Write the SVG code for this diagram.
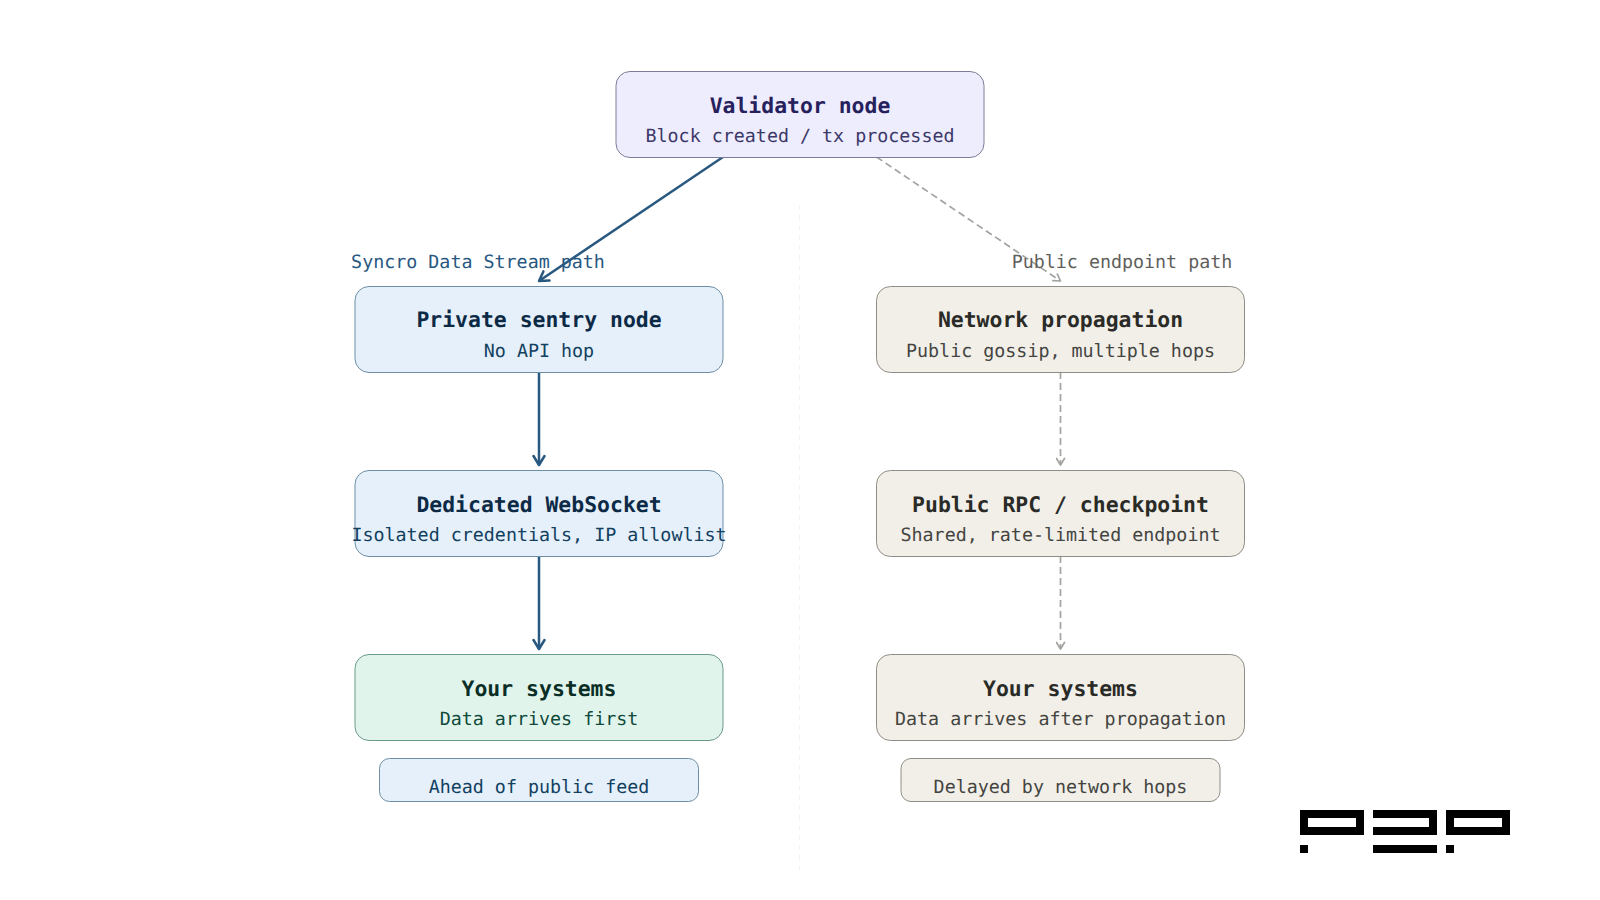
<svg xmlns="http://www.w3.org/2000/svg" width="1600" height="900" viewBox="0 0 1600 900">
<style>
text{font-family:"DejaVu Sans Mono",monospace;text-anchor:middle;text-rendering:geometricPrecision}
.t{font-size:21.45px;font-weight:700}
.s{font-size:18.33px}
.purple rect{fill:#eeedfe;stroke:#7f7c99}
.purple .t{fill:#26215c}.purple .s{fill:#3c3868}
.blue rect{fill:#e5f0fa;stroke:#6d8fa8}
.blue .t{fill:#0c2a46}.blue .s{fill:#12405f}
.green rect{fill:#e1f4ec;stroke:#6a9a88}
.green .t{fill:#0a2e25}.green .s{fill:#0f4a3a}
.gray rect{fill:#f1efe8;stroke:#8f8e86}
.gray .t{fill:#2a2a27}.gray .s{fill:#444441}
.solid{fill:none;stroke:#28587f;stroke-width:2.5}
.dash{fill:none;stroke:#a3a3a0;stroke-width:1.7;stroke-dasharray:7 4}
</style>
<defs>
<marker id="a1" viewBox="0 0 14 14" refX="11" refY="7" markerWidth="14" markerHeight="14" markerUnits="userSpaceOnUse" orient="auto"><path d="M2 1.5L11 7L2 12.5" fill="none" stroke="#28587f" stroke-width="2.5" stroke-linecap="round" stroke-linejoin="round"/></marker>
<marker id="a2" viewBox="0 0 10 10" refX="8" refY="5" markerWidth="10" markerHeight="10" markerUnits="userSpaceOnUse" orient="auto"><path d="M1.5 1L8 5L1.5 9" fill="none" stroke="#a3a3a0" stroke-width="1.7" stroke-linecap="round" stroke-linejoin="round"/></marker>
</defs>
<rect width="1600" height="900" fill="#fff"/>
<line x1="799.5" y1="205" x2="799.5" y2="875" stroke="#f2f2f2" stroke-width="1" stroke-dasharray="5 5"/>
<g id="connectors">
<path class="solid" d="M723 157L539 281" marker-end="url(#a1)"/>
<path class="solid" d="M539 372L539 465" marker-end="url(#a1)"/>
<path class="solid" d="M539 556L539 649" marker-end="url(#a1)"/>
<path class="dash" d="M876.500 157L1060.500 281" marker-end="url(#a2)"/>
<path class="dash" d="M1060.500 372L1060.500 465" marker-end="url(#a2)"/>
<path class="dash" d="M1060.500 556L1060.500 649" marker-end="url(#a2)"/>
</g>
<g id="validator" class="purple"><rect x="616" y="71.500" width="368" height="86" rx="14"/><text class="t" x="800" y="113">Validator node</text><text class="s" x="800" y="142">Block created / tx processed</text></g>
<text id="label-left" x="478" y="268" font-size="18.33" fill="#28587f">Syncro Data Stream path</text>
<text id="label-right" x="1122" y="268" font-size="18.33" fill="#5f5f5c">Public endpoint path</text>
<g id="sentry" class="blue"><rect x="355" y="286.500" width="368" height="86" rx="14"/><text class="t" x="539" y="327">Private sentry node</text><text class="s" x="539" y="357">No API hop</text></g>
<g id="websocket" class="blue"><rect x="355" y="470.500" width="368" height="86" rx="14"/><text class="t" x="539" y="512">Dedicated WebSocket</text><text class="s" x="539" y="541">Isolated credentials, IP allowlist</text></g>
<g id="systems-left" class="green"><rect x="355" y="654.500" width="368" height="86" rx="14"/><text class="t" x="539" y="696">Your systems</text><text class="s" x="539" y="725">Data arrives first</text></g>
<g id="badge-left" class="blue"><rect x="379.500" y="758.500" width="319" height="43" rx="10"/><text class="s" x="539" y="793">Ahead of public feed</text></g>
<g id="propagation" class="gray"><rect x="876.500" y="286.500" width="368" height="86" rx="14"/><text class="t" x="1060.500" y="327">Network propagation</text><text class="s" x="1060.500" y="357">Public gossip, multiple hops</text></g>
<g id="rpc" class="gray"><rect x="876.500" y="470.500" width="368" height="86" rx="14"/><text class="t" x="1060.500" y="512">Public RPC / checkpoint</text><text class="s" x="1060.500" y="541">Shared, rate-limited endpoint</text></g>
<g id="systems-right" class="gray"><rect x="876.500" y="654.500" width="368" height="86" rx="14"/><text class="t" x="1060.500" y="696">Your systems</text><text class="s" x="1060.500" y="725">Data arrives after propagation</text></g>
<g id="badge-right" class="gray"><rect x="901" y="758.500" width="319" height="43" rx="10"/><text class="s" x="1060.500" y="793">Delayed by network hops</text></g>
<g id="logo" fill="#000"><path fill-rule="evenodd" d="M1300 810H1364V835H1300ZM1308 818V827H1356V818Z"/><rect x="1300" y="845" width="8" height="8"/><path d="M1373 810H1437V835H1373V827H1429V818H1373Z"/><rect x="1373" y="845" width="64" height="8"/><path fill-rule="evenodd" d="M1446 810H1510V835H1446ZM1454 818V827H1502V818Z"/><rect x="1446" y="845" width="8" height="8"/></g>
</svg>
